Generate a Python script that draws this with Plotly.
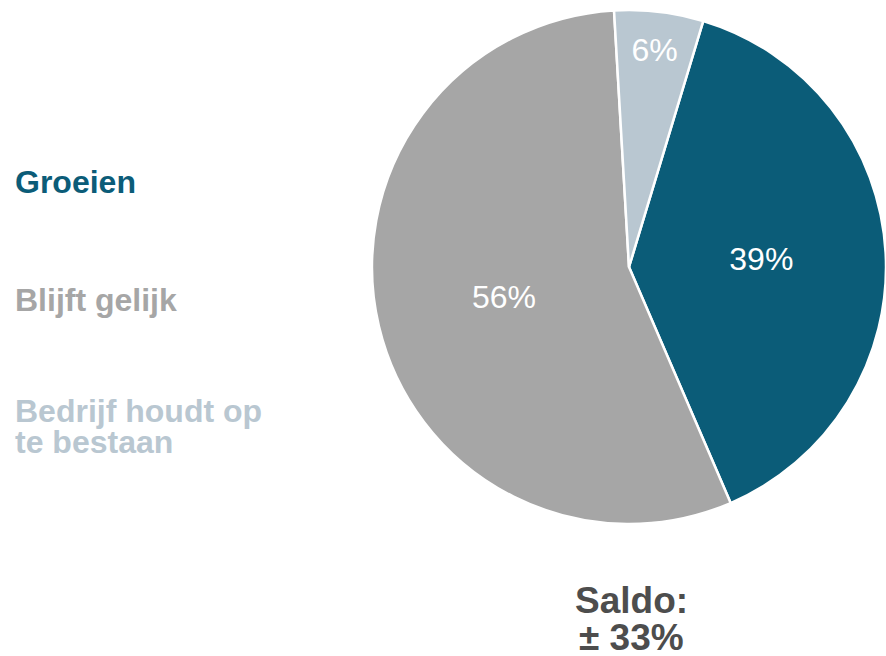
import plotly.graph_objects as go

categories = ["Groeien", "Blijft gelijk", "Bedrijf houdt op te bestaan"]
values = [38.9, 55.6, 5.6]
colors = ["#0B5C78", "#A6A6A6", "#B9C7D1"]
legend_lines = [["Groeien"], ["Blijft gelijk"], ["Bedrijf houdt op", "te bestaan"]]
saldo_lines = ["Saldo:", "± 33%"]

W, H = 886, 656
FONT = "Liberation Sans, Arial, sans-serif"

fig = go.Figure()
fig.add_trace(go.Pie(
    labels=categories,
    values=values,
    sort=False,
    direction="clockwise",
    rotation=16.8,
    marker=dict(colors=colors, line=dict(color="white", width=2.5)),
    texttemplate="%{percent:.0%}",
    textposition="inside",
    insidetextorientation="horizontal",
    textfont=dict(family=FONT, size=32, color="white"),
    domain=dict(x=[372 / W, 1.0], y=[(H - 526) / H, (H - 8) / H]),
    showlegend=False,
    hoverinfo="label+percent",
))

def py(px):
    return 1 - px / H

annotations = []
legend_y = [[180], [297.5], [409, 440]]
for lines, ys, col in zip(legend_lines, legend_y, colors):
    for line, yy in zip(lines, ys):
        annotations.append(dict(
            text="<b>%s</b>" % line, x=13 / W, y=py(yy + 2), xref="paper", yref="paper",
            xanchor="left", yanchor="middle", showarrow=False,
            font=dict(family=FONT, size=32, color=col)))

for line, yy in zip(saldo_lines, [598.5, 635]):
    annotations.append(dict(
        text="<b>%s</b>" % line, x=631 / W, y=py(yy + 2), xref="paper", yref="paper",
        xanchor="center", yanchor="middle", showarrow=False,
        font=dict(family=FONT, size=37, color="#4D4D4D")))

fig.update_layout(
    width=W, height=H,
    margin=dict(l=0, r=0, t=0, b=0),
    paper_bgcolor="white", plot_bgcolor="white",
    annotations=annotations,
)

fig.write_html(
    "out.html",
    config={"displayModeBar": False},
    post_script="document.body.style.margin='0';document.body.style.overflow='hidden';",
)
